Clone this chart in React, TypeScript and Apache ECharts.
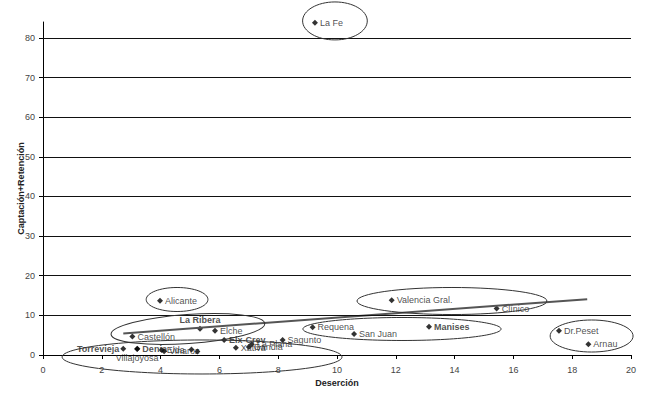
import React, { useEffect, useRef } from "react";
import * as echarts from "echarts";

// Hospital names (two unlabeled markers at the end)
const hospitals = [
  "La Fe", "Alicante", "Valencia Gral.", "Clínico", "Requena", "San Juan", "Manises",
  "Dr.Peset", "Arnau", "La Ribera", "Elche", "Castellón", "Elx-Crev", "Sagunto",
  "La Plana", "Xàtiva", "Gandia", "Torrevieja", "Villajoyosa", "Denia", "Elda", "Vinaroz", "", "",
];
// Deserción (x)
const desercion = [
  9.25, 3.98, 11.86, 15.43, 9.17, 10.58, 13.13,
  17.55, 18.55, 5.34, 5.85, 3.04, 6.16, 8.15,
  7.1, 6.56, 7.0, 2.73, 3.2, 3.21, 4.04, 4.12, 5.05, 5.25,
];
// Captación+Retención (y)
const captacion = [
  83.8, 13.7, 13.8, 11.7, 6.97, 5.3, 7.1,
  6.1, 2.7, 6.6, 6.1, 4.65, 3.77, 3.77,
  2.7, 1.84, 2.0, 1.6, 1.5, 1.6, 1.25, 0.95, 1.4, 0.9,
];
// Linear trend line end points
const trendX = [2.73, 18.51];
const trendY = [5.45, 14.09];

const xTicks = [0, 2, 4, 6, 8, 10, 12, 14, 16, 18, 20];
const yTicks = [0, 10, 20, 30, 40, 50, 60, 70, 80];

// Label styling
const boldNames = ["La Ribera", "Elx-Crev", "Manises", "Torrevieja", "Denia"];
const labelPos: Record<string, string> = { Torrevieja: "left", "La Ribera": "top", Villajoyosa: "bottom" };

// Hand-drawn ellipse annotations, in data units: [cx, cy, rx, ry, rotationDeg]
const ellipses = [
  [9.93, 84.27, 1.1, 4.79, 0],
  [4.56, 14.0, 1.05, 3.03, 0],
  [13.91, 13.62, 3.23, 3.41, 0],
  [4.93, 6.56, 2.62, 3.66, 4],
  [12.21, 6.56, 3.37, 2.9, 0],
  [18.66, 4.79, 1.41, 4.04, 0],
  [5.41, -0.5, 4.76, 4.29, 0],
];

const FONT = "'Liberation Sans', Arial, sans-serif";

export default function App() {
  const ref = useRef<HTMLDivElement>(null);
  useEffect(() => {
    document.body.style.margin = "0";
    const chart = echarts.init(ref.current!, undefined, { renderer: "svg" });
    const points = hospitals.map((n, i) => {
      const pos = labelPos[n] || "right";
      return {
        name: n,
        value: [desercion[i], captacion[i]],
        label: {
          show: n !== "",
          position: pos,
          distance: pos === "right" ? 2 : 1,
          color: "#222",
          fontFamily: FONT,
          fontSize: 9,
          fontWeight: boldNames.includes(n) ? "bold" : "normal",
        },
      };
    });
    chart.setOption({
      animation: false,
      backgroundColor: "#fff",
      textStyle: { fontFamily: FONT },
      grid: { left: 43, right: 19, top: 22, bottom: 49, containLabel: false, outerBoundsMode: "none" },
      xAxis: {
        type: "value",
        min: 0,
        max: 20,
        interval: 2,
        name: "Deserción",
        nameLocation: "middle",
        nameGap: 23,
        nameMoveOverlap: false,
        nameTextStyle: { fontFamily: FONT, fontSize: 9, fontWeight: "bold", color: "#222" },
        axisLine: { show: true, lineStyle: { color: "#000", width: 1 } },
        axisTick: { show: true, length: 4, lineStyle: { color: "#000" } },
        axisLabel: {
          fontFamily: FONT, fontSize: 9, color: "#444", margin: 10,
          customValues: xTicks,
        },
        splitLine: { show: false },
      },
      yAxis: {
        type: "value",
        min: 0,
        max: 84,
        interval: 10,
        name: "Captación+Retención",
        nameLocation: "middle",
        nameGap: 18,
        nameMoveOverlap: false,
        nameTextStyle: { fontFamily: FONT, fontSize: 9, fontWeight: "bold", color: "#222" },
        axisLine: { show: true, lineStyle: { color: "#000", width: 1 } },
        axisTick: { show: true, length: 4, lineStyle: { color: "#000" }, customValues: yTicks },
        axisLabel: { fontFamily: FONT, fontSize: 9, color: "#444", margin: 8, customValues: yTicks },
        splitLine: { show: false },
      },
      series: [
        {
          type: "scatter",
          symbol: "diamond",
          symbolSize: 6,
          itemStyle: { color: "#000" },
          label: { fontFamily: FONT, fontSize: 9, color: "#222", formatter: "{b}" },
          emphasis: { disabled: true },
          data: points,
          z: 3,
          markLine: {
            silent: true,
            symbol: "none",
            label: { show: false },
            lineStyle: { color: "#111", width: 1, type: "solid" },
            data: yTicks.filter((v) => v > 0).map((v) => ({ yAxis: v })),
          },
        },
        {
          type: "line",
          data: trendX.map((x, i) => [x, trendY[i]]),
          symbol: "none",
          lineStyle: { color: "#555", width: 2 },
          z: 4,
        },
      ],
    });
    const graphics = ellipses.map(([cx, cy, rx, ry, rot]) => {
      const c = chart.convertToPixel({ gridIndex: 0 }, [cx, cy]) as number[];
      const r = chart.convertToPixel({ gridIndex: 0 }, [cx + rx, cy + ry]) as number[];
      return {
        type: "ellipse",
        x: c[0],
        y: c[1],
        rotation: (rot * Math.PI) / 180,
        shape: { cx: 0, cy: 0, rx: Math.abs(r[0] - c[0]), ry: Math.abs(c[1] - r[1]) },
        style: { fill: "none", stroke: "#333", lineWidth: 1 },
        silent: true,
        z: 10,
      };
    });
    chart.setOption({ graphic: graphics });
    return () => chart.dispose();
  }, []);
  return <div ref={ref} style={{ width: 650, height: 404 }} />;
}
